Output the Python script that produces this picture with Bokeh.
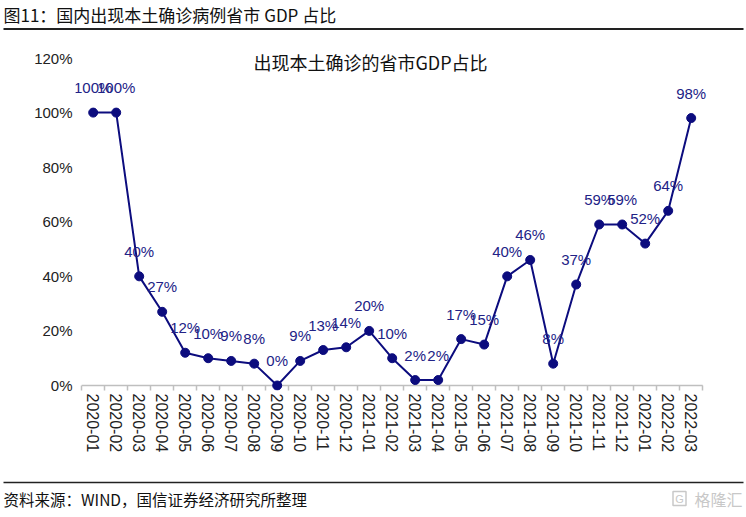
from bokeh.plotting import figure
from bokeh.layouts import column
from bokeh.models import Range1d, FixedTicker, Label
from bokeh.core.properties import value
from bokeh.embed import file_html
from bokeh.resources import INLINE

# ---- data ----
months = ["2020-01", "2020-02", "2020-03", "2020-04", "2020-05", "2020-06",
          "2020-07", "2020-08", "2020-09", "2020-10", "2020-11", "2020-12",
          "2021-01", "2021-02", "2021-03", "2021-04", "2021-05", "2021-06",
          "2021-07", "2021-08", "2021-09", "2021-10", "2021-11", "2021-12",
          "2022-01", "2022-02", "2022-03"]
share = [100, 100, 40, 27, 12, 10, 9, 8, 0, 9, 13, 14, 20, 10, 2, 2, 17, 15,
         40, 46, 8, 37, 59, 59, 52, 64, 98]
y_ticks = [0, 20, 40, 60, 80, 100, 120]
y_tick_labels = ["0%", "20%", "40%", "60%", "80%", "100%", "120%"]
header_text = "图11：国内出现本土确诊病例省市 GDP 占比"
chart_title = "出现本土确诊的省市GDP占比"
source_note = "资料来源：WIND，国信证券经济研究所整理"
watermark = "格隆汇"

NAVY = "#0c0c7e"
LABEL_C = "#222286"
AXIS_C = "#bfbfbf"
RULE_C = "#222222"
CJK = "Noto Sans CJK SC"
LAT = "Liberation Sans"

W = 746
H_HEAD, H_MAIN, H_FOOT = 40, 435, 42


def blank(height):
    f = figure(width=W, height=height, output_backend="svg", toolbar_location=None,
               x_range=Range1d(0, W), y_range=Range1d(height, 0),
               x_axis_type=None, y_axis_type=None, min_border=0)
    f.outline_line_color = None
    f.grid.visible = False
    f.frame_align = False
    return f


# ---- header ----
head = blank(H_HEAD)
head.text(x=[3], y=[14], text=[header_text], text_baseline="middle",
          text_align="left", text_font=value(CJK), text_font_size="17px",
          text_color="#111111")
head.line(x=[3, 743], y=[28.5, 28.5], line_color=RULE_C, line_width=2)

# ---- main chart ----
BL, BR, BT, BB = 75, 34, 1, 85
STEP = 23.0                      # px per category
n = len(months)
x_start = -(81.2 - BL) / STEP
x_end = x_start + (W - BL - BR) / STEP
PX_PER_PCT = 2.729
y_start = -5 / PX_PER_PCT
y_end = y_start + (H_MAIN - BT - BB) / PX_PER_PCT

p = figure(width=W, height=H_MAIN, output_backend="svg", toolbar_location=None,
           x_range=Range1d(x_start, x_end), y_range=Range1d(y_start, y_end),
           min_border_left=BL, min_border_right=BR, min_border_top=BT,
           min_border_bottom=BB)
p.frame_align = False
p.xgrid.visible = False
p.ygrid.visible = False
p.outline_line_color = None

xs = [i + 0.5 for i in range(n)]
bounds = list(range(n + 1))

xa = p.xaxis[0]
xa.ticker = FixedTicker(ticks=xs, minor_ticks=bounds)
xa.major_label_overrides = {x: m for x, m in zip(xs, months)}
xa.major_label_orientation = "vertical"
xa.axis_line_color = None
xa.major_tick_line_color = None
xa.major_tick_in = 0
xa.major_tick_out = 0
xa.minor_tick_line_color = AXIS_C
xa.minor_tick_line_width = 1.5
xa.minor_tick_in = 5
xa.minor_tick_out = 0
xa.major_label_standoff = 3
xa.major_label_text_font = LAT
xa.major_label_text_font_size = "16px"
xa.major_label_text_color = "#222222"

# category axis line at 0 %
p.line(x=[bounds[0], bounds[-1]], y=[0, 0], line_color=AXIS_C, line_width=1.5)

ya = p.yaxis[0]
ya.ticker = FixedTicker(ticks=y_ticks)
ya.major_label_overrides = {t: l for t, l in zip(y_ticks, y_tick_labels)}
ya.axis_line_color = None
ya.major_tick_line_color = None
ya.minor_tick_line_color = None
ya.major_tick_in = 0
ya.major_tick_out = 0
ya.major_label_standoff = 3
ya.major_label_text_font = LAT
ya.major_label_text_font_size = "15px"
ya.major_label_text_color = "#222222"

p.line(xs, share, line_color=NAVY, line_width=2)
p.scatter(xs, share, size=9, fill_color=NAVY, line_color=NAVY)
p.text(xs, share, text=[f"{v}%" for v in share], text_align="center",
       text_baseline="middle", y_offset=-25, text_font=value(LAT),
       text_font_size="15px", text_color=LABEL_C)

# chart title (screen units measured from the frame's bottom-left, y up)
frame_bottom_page = H_HEAD + H_MAIN - BB
p.add_layout(Label(x=370 - BL, y=frame_bottom_page - 61, x_units="screen",
                   y_units="screen", text=chart_title, text_font=CJK,
                   text_font_size="18px", text_color="#111111",
                   text_baseline="middle", text_align="center"))

# ---- footer ----
foot = blank(H_FOOT)
foot.line(x=[3, 743], y=[7, 7], line_color=RULE_C, line_width=1.5)
foot.text(x=[3], y=[23], text=[source_note], text_baseline="middle",
          text_align="left", text_font=value(CJK), text_font_size="15.5px",
          text_color="#111111")
foot.rect(x=[679], y=[23], width=13, height=14, fill_color=None,
          line_color="#c8c8c8", line_width=1.5)
foot.text(x=[679], y=[23], text=["G"], text_baseline="middle",
          text_align="center", text_font=value(LAT), text_font_size="11px",
          text_color="#c8c8c8")
foot.text(x=[742], y=[23], text=[watermark], text_baseline="middle",
          text_align="right", text_font=value(CJK), text_font_size="16px",
          text_color="#c8c8c8")

layout = column(head, p, foot, spacing=0)
open("out.html", "w").write(file_html(layout, INLINE))
